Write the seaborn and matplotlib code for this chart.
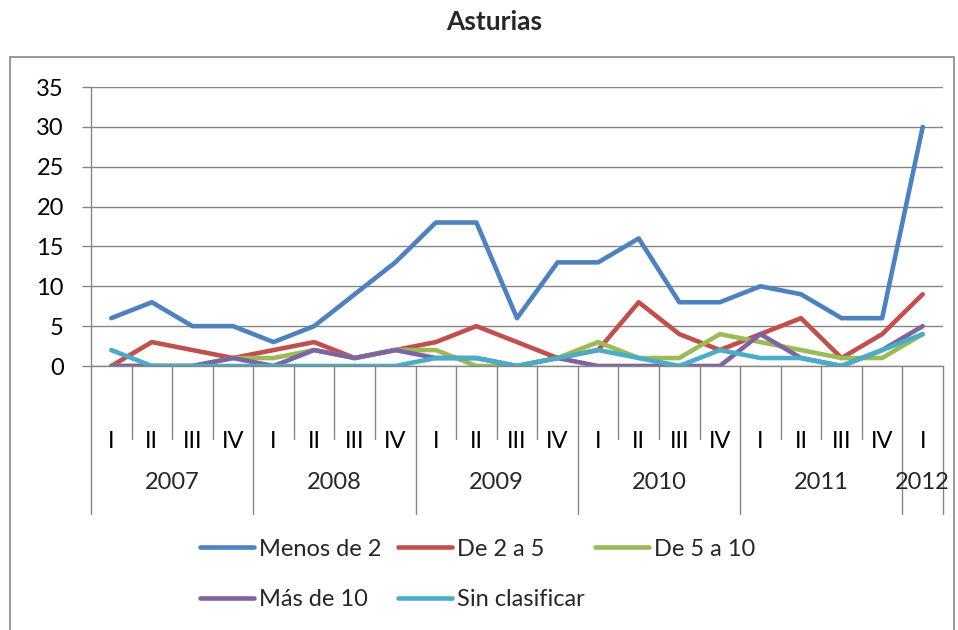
import pandas as pd
import seaborn as sns
import matplotlib.pyplot as plt
from matplotlib.patches import Rectangle
from matplotlib.lines import Line2D

# Datos (trimestres 2007 I - 2012 I)
anios = ['2007', '2008', '2009', '2010', '2011', '2012']
trimestres = ['I', 'II', 'III', 'IV'] * 5 + ['I']
series = ['Menos de 2', 'De 2 a 5', 'De 5 a 10', 'Más de 10', 'Sin clasificar']
menos_de_2 = [6, 8, 5, 5, 3, 5, 9, 13, 18, 18, 6, 13, 13, 16, 8, 8, 10, 9, 6, 6, 30]
de_2_a_5 = [0, 3, 2, 1, 2, 3, 1, 2, 3, 5, 3, 1, 2, 8, 4, 2, 4, 6, 1, 4, 9]
de_5_a_10 = [0, 0, 0, 1, 1, 2, 1, 2, 2, 0, 0, 1, 3, 1, 1, 4, 3, 2, 1, 1, 4]
mas_de_10 = [0, 0, 0, 1, 0, 2, 1, 2, 1, 1, 0, 1, 0, 0, 0, 0, 4, 1, 0, 2, 5]
sin_clasificar = [2, 0, 0, 0, 0, 0, 0, 0, 1, 1, 0, 1, 2, 1, 0, 2, 1, 1, 0, 2, 4]
colores = ['#4F81BD', '#C0504D', '#9BBB59', '#8064A2', '#4BACC6']

sns.set_theme(style="white")
plt.rcParams['font.family'] = ['Lato', 'DejaVu Sans']
plt.rcParams['font.size'] = 17

n = len(trimestres)
df = pd.DataFrame({
    'pos': list(range(n)) * 5,
    'valor': menos_de_2 + de_2_a_5 + de_5_a_10 + mas_de_10 + sin_clasificar,
    'serie': [s for s in series for _ in range(n)],
})

fig = plt.figure(figsize=(9.58, 6.3), dpi=100)
ax = fig.add_axes([91 / 958, 1 - 366 / 630, (943 - 91) / 958, (366 - 87) / 630])

sns.lineplot(data=df, x='pos', y='valor', hue='serie', hue_order=series,
             palette=colores, linewidth=3.3, sort=False, legend=False, ax=ax)

gris = '#868686'
ax.set_xlim(-0.5, n - 0.5)
ax.set_ylim(0, 35)
ax.set_yticks(range(0, 36, 5))
ax.yaxis.grid(True, color=gris, linewidth=1)
ax.set_axisbelow(True)
for lado in ['top', 'right']:
    ax.spines[lado].set_visible(False)
for lado in ['left', 'bottom']:
    ax.spines[lado].set_color(gris)
    ax.spines[lado].set_linewidth(1)
ax.tick_params(axis='y', left=True, length=6.5, width=1, color=gris,
               labelsize=17, pad=13, labelcolor='black')
ax.set_xticks(range(n))
ax.set_xticklabels(trimestres)
ax.tick_params(axis='x', bottom=False, labelsize=17, pad=41, labelcolor='black')
ax.set_xlabel('')
ax.set_ylabel('')

# separadores del eje de categorías
limites_anio = [-0.5 + 4 * k for k in range(6)] + [n - 0.5]
for b in range(n + 1):
    x = b - 0.5
    largo = -0.53 if x in limites_anio else -0.26
    ax.plot([x, x], [0, largo], transform=ax.get_xaxis_transform(),
            color=gris, linewidth=1, clip_on=False)

for i, anio in enumerate(anios):
    ini = 4 * i
    fin = min(ini + 3, n - 1)
    ax.annotate(anio, xy=((ini + fin) / 2, 0), xycoords=('data', 'axes fraction'),
                xytext=(0, -84), textcoords='offset points',
                ha='center', va='center', fontsize=17)

fig.suptitle('Asturias', x=494 / 958, y=1 - 22 / 630, va='center',
             fontsize=19, fontweight='bold')

# leyenda estilo Excel
pos_leyenda = [(200, 549), (398, 549), (595, 549), (200, 600), (398, 600)]
for s, c, (px, py) in zip(series, colores, pos_leyenda):
    h = Line2D([], [], color=c, linewidth=3.3, solid_capstyle='round')
    fig.legend(handles=[h], labels=[s], loc='center left',
               bbox_to_anchor=(px / 958, 1 - py / 630), frameon=False,
               borderpad=0, borderaxespad=0, handlelength=2.3,
               handletextpad=0.2, fontsize=17)

# marco exterior
fig.patches.append(Rectangle((10 / 958, -0.05), (954 - 10) / 958, 1 - 57 / 630 + 0.05,
                             transform=fig.transFigure, fill=False,
                             edgecolor=gris, linewidth=1.2))

fig.savefig('out.png', dpi=100)
